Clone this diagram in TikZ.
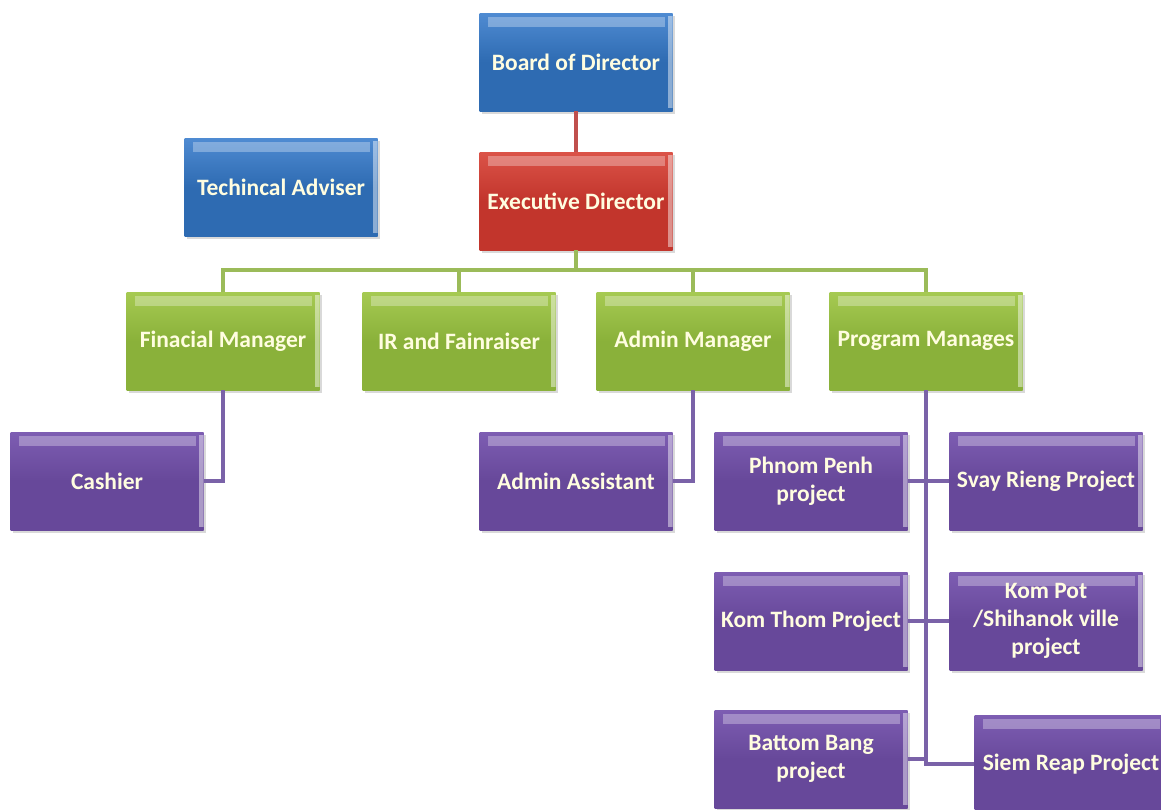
\documentclass[tikz,border=0pt]{standalone}
\usepackage{fontspec}
\setmainfont{Carlito}
\usetikzlibrary{shadows}

\definecolor{bluebox}{HTML}{2E6BB2}
\definecolor{bluetop}{HTML}{4F8BD2}
\definecolor{redbox}{HTML}{C2352C}
\definecolor{redtop}{HTML}{DB5348}
\definecolor{greenbox}{HTML}{8AB13A}
\definecolor{greentop}{HTML}{A6CA52}
\definecolor{purplebox}{HTML}{67489A}
\definecolor{purpletop}{HTML}{7D5DB2}
\definecolor{redline}{HTML}{C0504D}
\definecolor{greenline}{HTML}{9BBB59}
\definecolor{purpleline}{HTML}{7A62A8}

\def\boxw{193}
\def\boxh{98}

\begin{document}
\begin{tikzpicture}[x=1pt,y=-1pt]
    \tikzstyle{box} = [rectangle, minimum width=\boxw pt, minimum height=\boxh pt, inner sep=0pt,
        align=center, text=white!88!yellow, font=\fontsize{23.5}{28}\selectfont\bfseries,
        drop shadow={shadow xshift=2pt, shadow yshift=-3pt, opacity=0.3},
        path picture={\fill[white,opacity=0.3] ([xshift=8pt,yshift=-4pt]path picture bounding box.north west)
            rectangle ([xshift=-8pt,yshift=-14pt]path picture bounding box.north east);
            \fill[white,opacity=0.45] ([xshift=-5pt,yshift=-3pt]path picture bounding box.north east)
            rectangle ([yshift=3pt]path picture bounding box.south east);}]
    \tikzstyle{bluenode} = [box, top color=bluetop, bottom color=bluebox, middle color=bluebox]
    \tikzstyle{rednode} = [box, top color=redtop, bottom color=redbox, middle color=redbox]
    \tikzstyle{greennode} = [box, top color=greentop, bottom color=greenbox, middle color=greenbox]
    \tikzstyle{purplenode} = [box, top color=purpletop, bottom color=purplebox, middle color=purplebox]
    \tikzstyle{link} = [line width=4pt]

    \useasboundingbox (0,0) rectangle (1161,809);

    %%% DRAW THE NODES
    \node[bluenode] (board) at (576,62) {Board of Director};
    \node[rednode] (exec) at (576,201) {Executive Director};
    \node[bluenode] (adviser) at (281,187) {Techincal Adviser};

    \foreach \name / \x / \txt in {fin/223/Finacial Manager, ir/459/IR and Fainraiser,
                                   adm/693/Admin Manager, prog/926/Program Manages}
        \node[greennode] (\name) at (\x,341) {\txt};

    \node[purplenode] (cash) at (107,481) {Cashier};
    \node[purplenode] (asst) at (576,481) {Admin Assistant};
    \node[purplenode] (phnom) at (811,481) {Phnom Penh\\project};
    \node[purplenode] (svay) at (1046,481) {Svay Rieng Project};
    \node[purplenode] (kthom) at (811,621) {Kom Thom Project};
    \node[purplenode] (kpot) at (1046,621) {Kom Pot\\/Shihanok ville\\project};
    \node[purplenode] (battom) at (811,759) {Battom Bang\\project};
    \node[purplenode] (siem) at (1071,764) {Siem Reap Project};

    %%% DRAW THE PATHS
    \coordinate (bus) at (576,270);
    \draw[link, redline] (board) -- (exec);
    \draw[link, greenline] (exec) -- (bus);
    \foreach \m in {fin,ir,adm,prog}
        \draw[link, greenline] (bus) -| (\m);
    \draw[link, purpleline] (fin) |- (cash);
    \draw[link, purpleline] (adm) |- (asst);
    \foreach \p in {phnom,svay,kthom,kpot,battom,siem}
        \draw[link, purpleline] (prog) |- (\p);
\end{tikzpicture}
\end{document}
